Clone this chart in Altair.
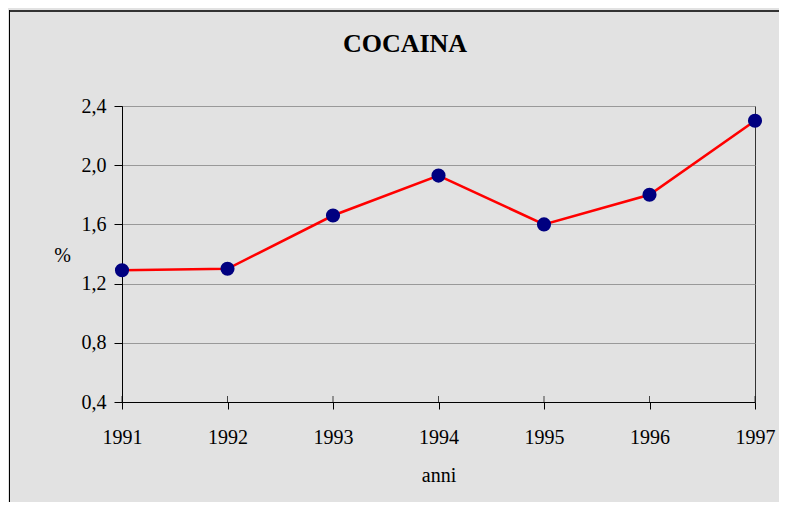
import altair as alt
import pandas as pd

title_text = "COCAINA"
years = [1991, 1992, 1993, 1994, 1995, 1996, 1997]
values = [1.29, 1.30, 1.66, 1.93, 1.60, 1.80, 2.30]
y_ticks = [0.4, 0.8, 1.2, 1.6, 2.0, 2.4]

df = pd.DataFrame({"anno": years, "valore": values})
ticks_df = pd.DataFrame({"anno": years})
dummy = pd.DataFrame({"t": [title_text]})

FONT = "Liberation Serif"
BG = "#e2e2e2"

x_enc = alt.X(
    "anno:Q",
    scale=alt.Scale(domain=[1991, 1997], nice=False, zero=False),
    axis=alt.Axis(
        values=years, format="d", title="anni", grid=False,
        domainColor="black", tickColor="black", tickSize=7,
        labelPadding=34, labelBaseline="alphabetic", labelFlush=False,
        labelOverlap=False, labelFont=FONT, labelFontSize=20, labelColor="black",
        titleFont=FONT, titleFontSize=20, titleFontWeight="normal", titleColor="black",
        titleY=79, titleBaseline="alphabetic",
    ),
)
y_enc = alt.Y(
    "valore:Q",
    scale=alt.Scale(domain=[0.4, 2.4], nice=False, zero=False),
    axis=alt.Axis(
        values=y_ticks, labelExpr="replace(format(datum.value, '.1f'), '.', ',')",
        title="%", titleAngle=0, titleX=-60, titleY=149, titleAlign="center",
        titleBaseline="middle", grid=True, gridColor="#999999", gridWidth=1,
        domainColor="black", tickColor="black", tickSize=8, labelPadding=8,
        labelFont=FONT, labelFontSize=20, labelColor="black",
        titleFont=FONT, titleFontSize=20, titleFontWeight="normal", titleColor="black",
    ),
)

line = alt.Chart(df).mark_line(color="#ff0000", strokeWidth=2.6).encode(x=x_enc, y=y_enc)
pts = alt.Chart(df).mark_circle(color="#000080", size=200, opacity=1).encode(x=x_enc, y=y_enc)
inner_ticks = alt.Chart(ticks_df).mark_tick(color="black", thickness=1, size=6, orient="vertical").encode(
    x=alt.X("anno:Q"), y=alt.value(293)
)
top_border = alt.Chart(dummy).mark_rule(color="#333333", strokeWidth=2).encode(
    x=alt.value(-113), x2=alt.value(700), y=alt.value(-95)
)
left_border = alt.Chart(dummy).mark_rule(color="black", strokeWidth=1).encode(
    x=alt.value(-112.5), y=alt.value(-96), y2=alt.value(500)
)
title = alt.Chart(dummy).mark_text(
    font=FONT, fontSize=26, fontWeight="bold", color="black",
    align="center", baseline="alphabetic",
).encode(x=alt.value(283), y=alt.value(-54), text="t:N")

chart = alt.layer(inner_ticks, line, pts, top_border, left_border, title).properties(
    width=633,
    height=296,
    autosize=alt.AutoSizeParams(type="none"),
    padding={"left": 114, "top": 98, "right": 24, "bottom": 100},
    background=BG,
).configure_view(stroke="#333333", strokeWidth=1, fill=BG)

chart.save("out.html", embed_options={"renderer": "svg", "actions": False})
